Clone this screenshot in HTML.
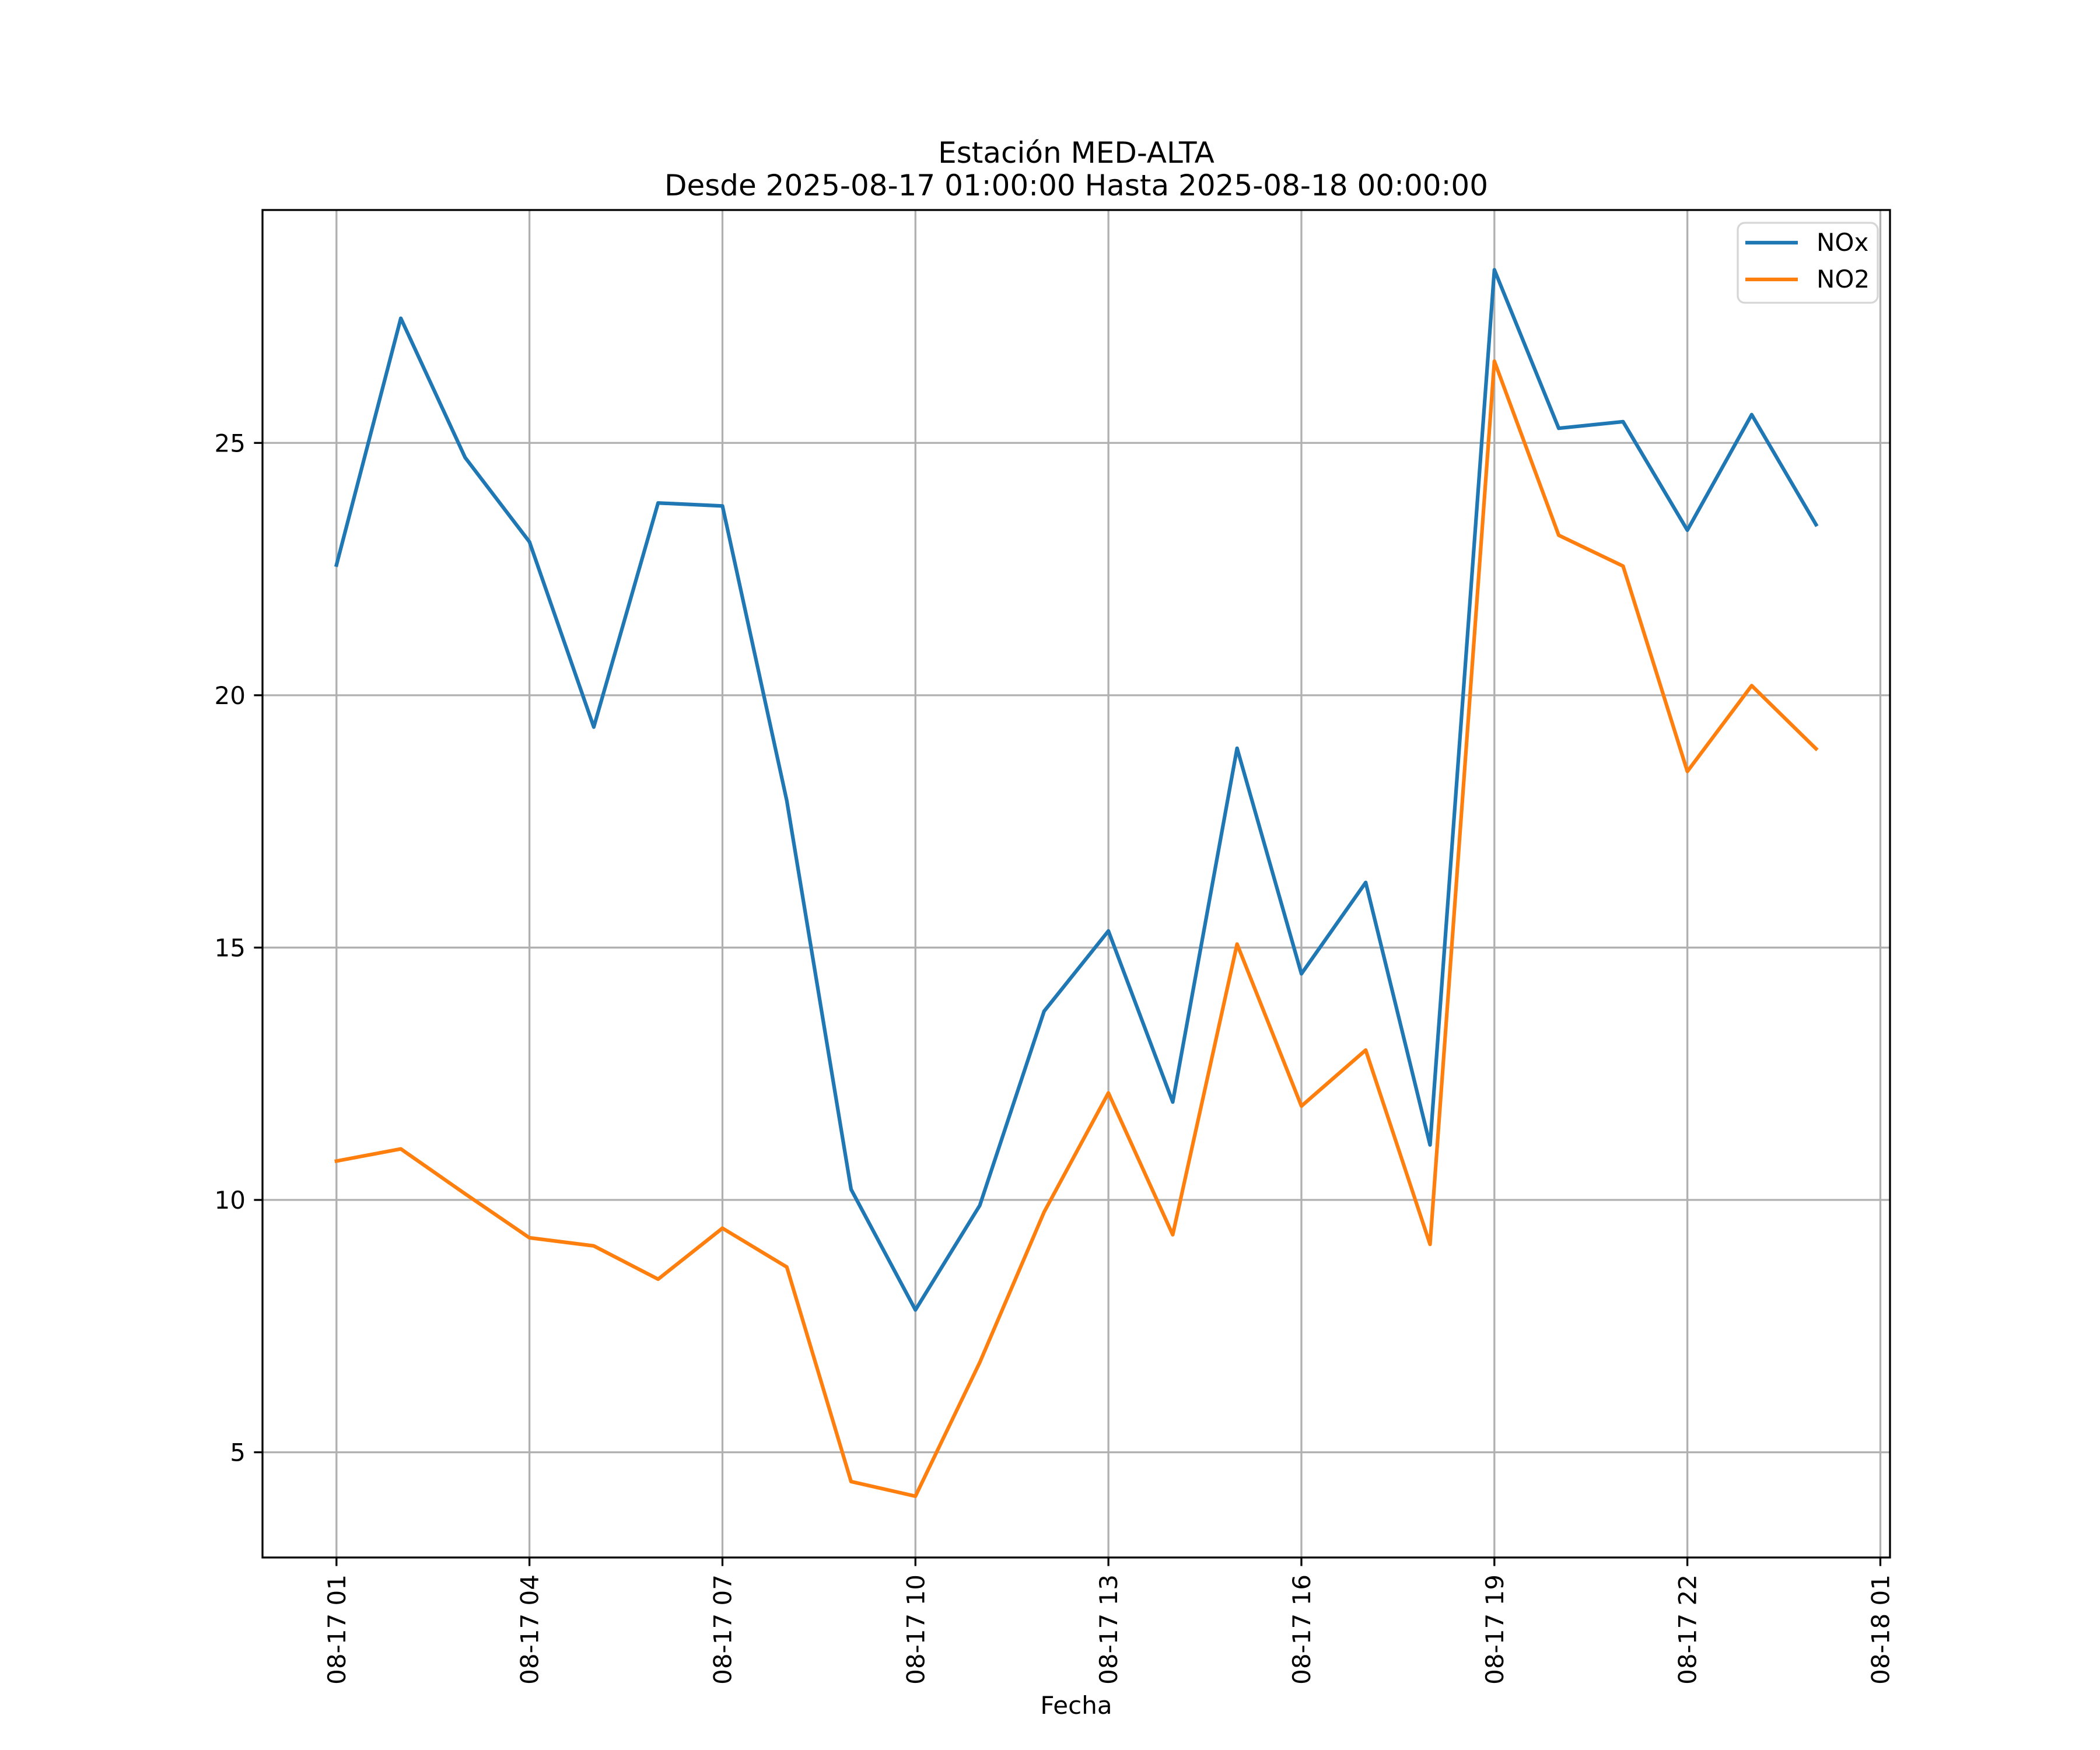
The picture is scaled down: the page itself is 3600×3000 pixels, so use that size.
<!DOCTYPE html>
<html><head><meta charset="utf-8"><style>
html,body{margin:0;padding:0;background:#fff;}
svg{display:block;font-family:"DejaVu Sans","Liberation Sans",sans-serif;}
</style></head><body>
<svg id="chart" width="3600" height="3000" viewBox="0 0 3600 3000" xmlns="http://www.w3.org/2000/svg">
<rect x="0" y="0" width="3600" height="3000" fill="#fff"/>
<text x="1845" y="279" font-size="50" text-anchor="middle">Estación MED-ALTA</text>
<text x="1845" y="335" font-size="50" text-anchor="middle">Desde 2025-08-17 01:00:00 Hasta 2025-08-18 00:00:00</text>
<g id="grid"></g>
<g id="series"></g>
<rect x="450" y="360" width="2790" height="2310" fill="none" stroke="#000" stroke-width="3.3"/>
<g id="ticks"></g>
<text x="1845" y="2938" font-size="42" text-anchor="middle">Fecha</text>
<g>
<rect x="2979" y="382" width="240" height="137" rx="12" fill="#fff" fill-opacity="0.8" stroke="#d6d6d6" stroke-width="3.3"/>
<line x1="2992" y1="416" x2="3082" y2="416" stroke="#1f77b4" stroke-width="6.25"/>
<text x="3114" y="430" font-size="42">NOx</text>
<line x1="2992" y1="479" x2="3082" y2="479" stroke="#ff7f0e" stroke-width="6.25"/>
<text x="3114" y="493" font-size="42">NO2</text>
</g>
</svg>
<script>
const hours = [1,2,3,4,5,6,7,8,9,10,11,12,13,14,15,16,17,18,19,20,21,22,23,24];
const noxValues = [22.58,27.47,24.71,23.04,19.37,23.81,23.75,17.91,10.21,7.82,9.89,13.74,15.33,11.94,18.95,14.48,16.29,11.09,28.43,25.29,25.42,23.27,25.56,23.38];
const no2Values = [10.77,11.01,10.12,9.25,9.09,8.43,9.44,8.67,4.42,4.13,6.78,9.76,12.12,9.31,15.07,11.86,12.97,9.12,26.62,23.17,22.56,18.49,20.19,18.94];
const xTickHours = [1,4,7,10,13,16,19,22,25];
const xTickLabels = ["08-17 01","08-17 04","08-17 07","08-17 10","08-17 13","08-17 16","08-17 19","08-17 22","08-18 01"];
const yTickValues = [5,10,15,20,25];

const L=450,R=3240,T=360,B=2670;
const xMin=-0.15,xMax=25.15,yMin=2.915,yMax=29.615;
function xs(h){return L+(h-xMin)/(xMax-xMin)*(R-L);}
function ys(v){return B-(v-yMin)/(yMax-yMin)*(B-T);}
const NS="http://www.w3.org/2000/svg";
function mk(tag,attrs,parent){const e=document.createElementNS(NS,tag);for(const k in attrs)e.setAttribute(k,attrs[k]);parent.appendChild(e);return e;}
const grid=document.getElementById('grid'),ticks=document.getElementById('ticks'),series=document.getElementById('series');

xTickHours.forEach((h,i)=>{
  const x=xs(h);
  const g=mk('line',{x1:x,y1:T,x2:x,y2:B,stroke:'#b0b0b0','stroke-width':3.3},grid);
  
  
  const t=mk('line',{x1:x,y1:B,x2:x,y2:B+14.6,stroke:'#000','stroke-width':3.3},ticks);
  
  
  const lb=mk('text',{x:0,y:0,'font-size':42,'text-anchor':'end',transform:`translate(${x+15},${B+29}) rotate(-90)`},ticks);
  lb.textContent=xTickLabels[i];
  
  
});
yTickValues.forEach(v=>{
  const y=ys(v);
  const g=mk('line',{x1:L,y1:y,x2:R,y2:y,stroke:'#b0b0b0','stroke-width':3.3},grid);
  
  
  const t=mk('line',{x1:L-14.6,y1:y,x2:L,y2:y,stroke:'#000','stroke-width':3.3},ticks);
  
  
  const lb=mk('text',{x:L-29,y:y+15,'font-size':42,'text-anchor':'end'},ticks);
  lb.textContent=String(v);
  
  
});
function drawLine(vals,color,name){
  const pts=vals.map((v,i)=>xs(hours[i]).toFixed(1)+','+ys(v).toFixed(1)).join(' ');
  const p=mk('polyline',{points:pts,fill:'none',stroke:color,'stroke-width':6.25,'stroke-linejoin':'round','stroke-linecap':'square'},series);
  
  
}
drawLine(noxValues,'#1f77b4','nox-line');
drawLine(no2Values,'#ff7f0e','no2-line');
</script>
</body></html>
